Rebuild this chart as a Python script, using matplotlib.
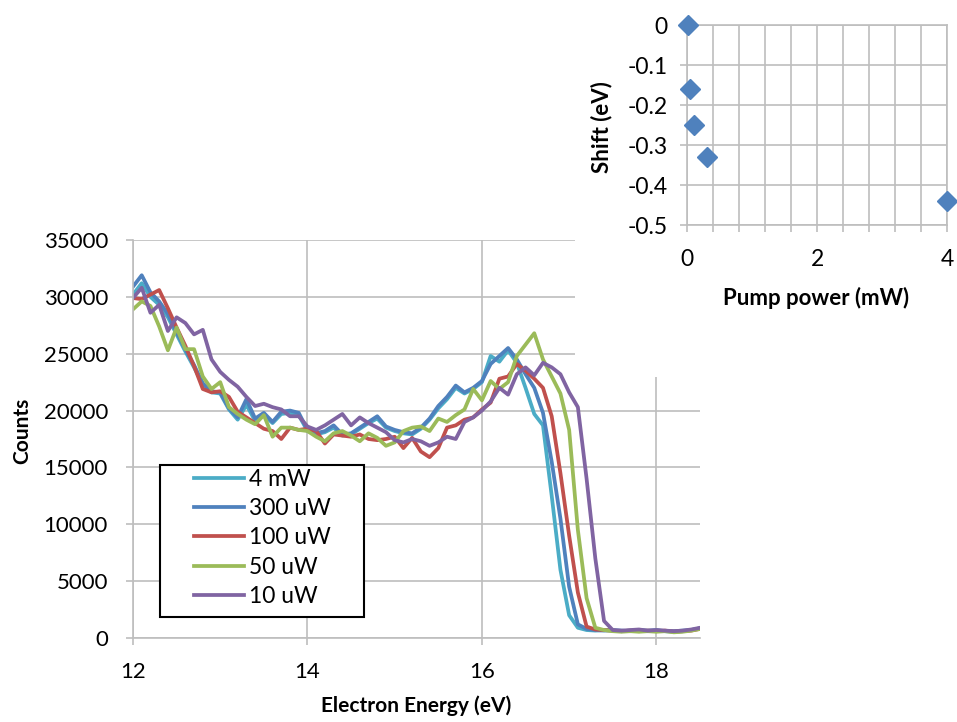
import numpy as np
import matplotlib
matplotlib.use("Agg")
import matplotlib.pyplot as plt
from matplotlib.patches import Rectangle
from matplotlib.ticker import MultipleLocator, FuncFormatter

plt.rcParams["font.family"] = ["Lato", "DejaVu Sans"]
plt.rcParams["axes.unicode_minus"] = False

# Electron energy grid (eV), 0.1 eV steps
energy_ev = np.round(np.arange(120, 186) / 10.0, 1)

counts_4mW = [
    30200, 31200, 30000, 29300, 28200, 26700, 25200, 23800, 22300, 21600,
    21500, 20100, 19200, 20500, 19100, 19600, 18900, 19700, 19800, 19600,
    18200, 17900, 18100, 18500, 17800, 17900, 18400, 18900, 19300, 18500,
    18200, 18000, 17900, 18400, 19200, 20200, 21000, 22000, 21500, 21900,
    22500, 24800, 24300, 25300, 24200, 22000, 19700, 18700, 12500, 6000,
    2000, 900, 700, 650, 700, 650, 600, 650, 700, 600,
    650, 600, 550, 600, 700, 850]

counts_300uW = [
    30900, 31900, 30400, 29600, 28500, 26900, 25400, 24000, 22400, 21700,
    21600, 20200, 19400, 21000, 19300, 19800, 19000, 19900, 20000, 19800,
    18300, 18000, 18200, 18700, 17900, 18000, 18500, 19000, 19500, 18600,
    18300, 18100, 18000, 18500, 19300, 20400, 21200, 22200, 21600, 22000,
    22600, 24100, 24800, 25500, 24500, 23200, 22000, 19800, 15500, 10500,
    4500, 1200, 800, 700, 650, 700, 650, 600, 700, 650,
    700, 600, 600, 650, 700, 850]

counts_100uW = [
    29900, 29800, 30200, 30600, 29000, 27300, 25700, 23900, 21900, 21600,
    21700, 21200, 19900, 19400, 18900, 18400, 18200, 17500, 18500, 18300,
    18400, 18200, 17100, 17900, 17800, 17700, 17900, 17500, 17400, 17500,
    17700, 16700, 17600, 16400, 15900, 16700, 18500, 18700, 19200, 19400,
    20100, 20700, 22800, 23000, 24100, 23500, 22800, 22000, 19500, 14500,
    9000, 4000, 1000, 750, 700, 650, 600, 650, 600, 650,
    600, 650, 550, 600, 650, 800]

counts_50uW = [
    28900, 29600, 29200, 27400, 25300, 27300, 25400, 25400, 23000, 21900,
    22500, 20300, 19700, 19200, 18800, 19600, 17700, 18500, 18500, 18300,
    18200, 17700, 17300, 18000, 18200, 17800, 17300, 18000, 17600, 16900,
    17200, 18200, 18500, 18600, 18200, 19300, 19000, 19600, 20100, 21900,
    20900, 22600, 21900, 22500, 24800, 25800, 26800, 24500, 23000, 21500,
    18300, 9500, 3500, 900, 700, 600, 550, 600, 550, 600,
    550, 600, 500, 550, 650, 800]

counts_10uW = [
    29900, 30800, 28600, 29300, 27000, 28200, 27700, 26700, 27100, 24500,
    23400, 22700, 22100, 21200, 20400, 20600, 20300, 20100, 19500, 19500,
    18600, 18300, 18700, 19200, 19700, 18700, 19400, 18900, 18500, 18100,
    17400, 17200, 17500, 17300, 16900, 17200, 17700, 17500, 19000, 19400,
    20000, 20800, 22000, 21400, 23200, 23800, 23100, 24200, 23800, 23200,
    21600, 20300, 14000, 7000, 1500, 700, 650, 700, 750, 650,
    700, 650, 600, 650, 750, 900]

series_labels = ["4 mW", "300 uW", "100 uW", "50 uW", "10 uW"]
series_counts = [counts_4mW, counts_300uW, counts_100uW, counts_50uW, counts_10uW]
series_colors = ["#4BACC6", "#4F81BD", "#C0504D", "#9BBB59", "#8064A2"]

# Edge shift versus pump power
pump_power_mw = [0.01, 0.05, 0.1, 0.3, 4.0]
edge_shift_ev = [0.0, -0.16, -0.25, -0.33, -0.44]

W, H = 957, 722
grid_c = "#BEBEBE"

fig = plt.figure(figsize=(W / 100, H / 100), dpi=100)
fig.patch.set_facecolor("white")

# ---- main spectrum panel ----
ax = fig.add_axes([133 / W, 84 / H, 567 / W, 398 / H], zorder=0)
for lab, vals, col in zip(series_labels, series_counts, series_colors):
    ax.plot(energy_ev, vals, color=col, lw=2.7, label=lab)

ax.set_xlim(12, 18.5)
ax.set_ylim(0, 35000)
ax.set_xticks([12, 14, 16, 18])
ax.set_yticks(np.arange(0, 35001, 5000))
ax.grid(True, color=grid_c, lw=1.2)
ax.set_axisbelow(True)
for s in ("top", "right"):
    ax.spines[s].set_visible(False)
for s in ("left", "bottom"):
    ax.spines[s].set_color(grid_c)
    ax.spines[s].set_linewidth(1.2)
ax.tick_params(axis="both", direction="out", length=5, width=1.2,
               color=grid_c, labelsize=16, labelcolor="black")
ax.tick_params(axis="x", pad=12)
ax.tick_params(axis="y", pad=13)
ax.set_xlabel("Electron Energy (eV)", fontsize=15, fontweight="bold")
ax.set_ylabel("Counts", fontsize=15, fontweight="bold")
ax.xaxis.set_label_coords(0.5, -0.145)
ax.yaxis.set_label_coords(-0.178, 0.52)

# legend with its own boxed frame
ax.add_patch(Rectangle((27 / 567, 21 / 398), 204 / 567, 152 / 398,
                       transform=ax.transAxes, fc="white", ec="black",
                       lw=1.5, zorder=4))
ax.legend(loc="upper left", bbox_to_anchor=((194 - 133) / 567, (638 - 469) / 398),
          frameon=False, fontsize=16.5, handlelength=2.2, handletextpad=0.22,
          labelspacing=0.36, borderpad=0, borderaxespad=0)

# ---- inset: shift vs pump power ----
fig.add_artist(Rectangle((575 / W, 1 - 377 / H), 382 / W, 377 / H,
                         transform=fig.transFigure, fc="white", ec="none",
                         zorder=1))
axin = fig.add_axes([687 / W, 497 / H, 260 / W, 200 / H], zorder=2)
axin.set_xlim(0, 4)
axin.set_ylim(-0.5, 0)
axin.xaxis.set_major_locator(MultipleLocator(2))
axin.xaxis.set_minor_locator(MultipleLocator(0.4))
axin.yaxis.set_major_locator(MultipleLocator(0.1))
axin.yaxis.set_major_formatter(
    FuncFormatter(lambda v, p: "0" if abs(v) < 1e-9 else f"{v:.1f}"))
axin.grid(True, which="both", axis="x", color=grid_c, lw=1.2)
axin.grid(True, which="major", axis="y", color=grid_c, lw=1.2)
axin.set_axisbelow(True)
for s in axin.spines.values():
    s.set_color(grid_c)
    s.set_linewidth(1.2)
axin.tick_params(axis="both", which="both", direction="out", length=5,
                 width=1.2, color=grid_c, labelsize=16.5, labelcolor="black")
axin.tick_params(axis="x", which="major", pad=12)
axin.tick_params(axis="y", pad=9)
axin.plot(pump_power_mw, edge_shift_ev, ls="none", marker="D", ms=10.5,
          color="#4F81BD", mec="#4F81BD", clip_on=False, zorder=5)
axin.set_xlabel("Pump power (mW)", fontsize=16, fontweight="bold")
axin.set_ylabel("Shift (eV)", fontsize=16, fontweight="bold")
axin.xaxis.set_label_coords(0.496, -0.31)
axin.yaxis.set_label_coords(-0.288, 0.49)

fig.savefig("out.png", dpi=100, facecolor="white")
